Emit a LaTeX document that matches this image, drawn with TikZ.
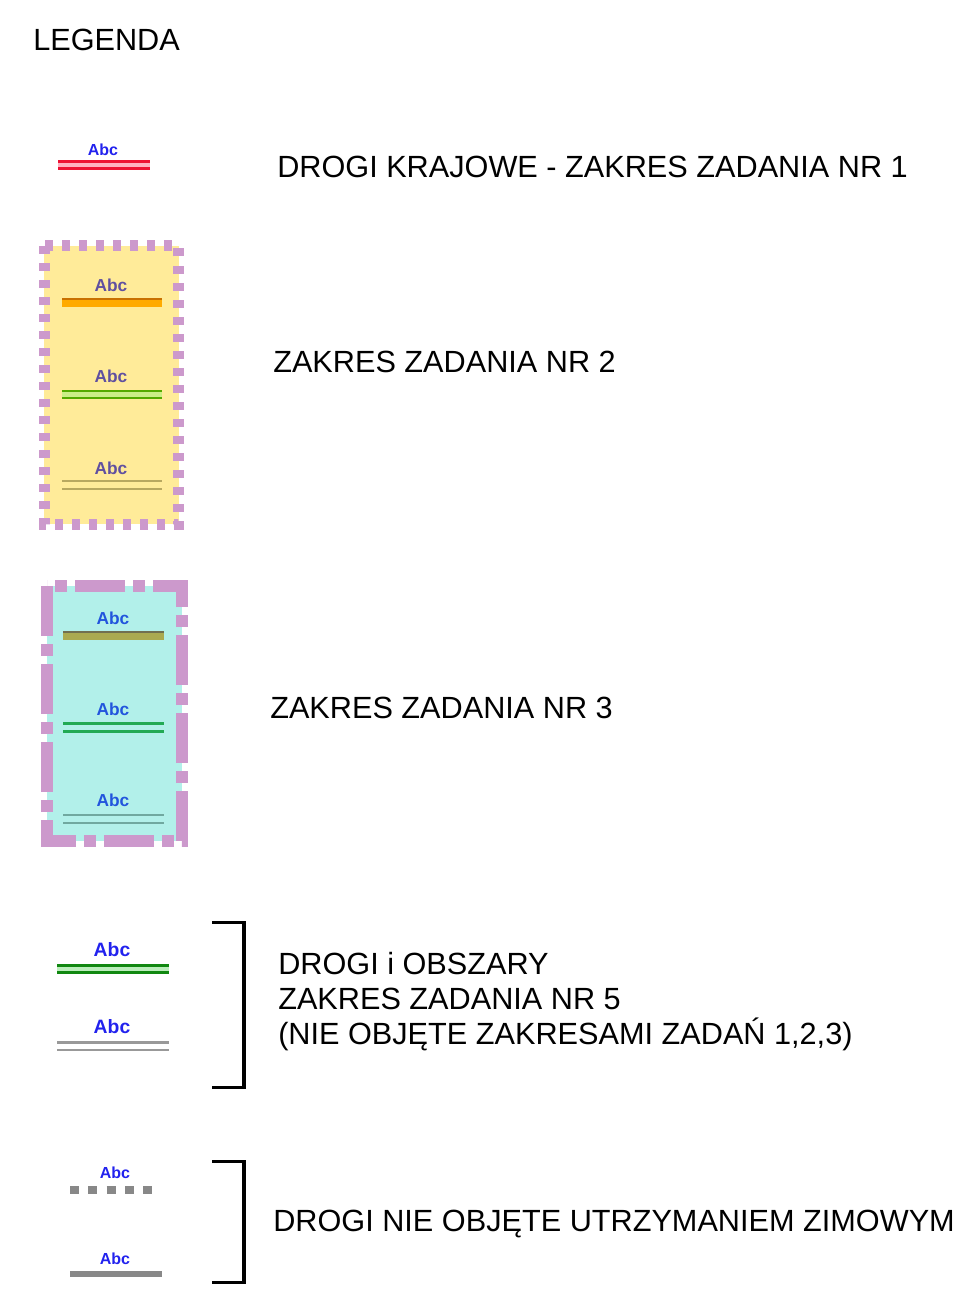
\documentclass[tikz,border=0pt]{standalone}
\usepackage{fontspec}
\setmainfont{Liberation Sans}
\usepackage{tikz}
\usetikzlibrary{positioning}
\definecolor{legpurple}{HTML}{CC99CC}
\definecolor{legyellow}{HTML}{FFEB99}
\definecolor{legcyan}{HTML}{B2F0EA}
\definecolor{abcblue}{HTML}{2222EE}
\definecolor{abcblue2}{HTML}{2255DD}
\definecolor{abcviolet}{HTML}{6050A0}
\definecolor{roadred}{HTML}{EE1133}
\definecolor{roadpink}{HTML}{FFB0C0}
\definecolor{roadorange}{HTML}{FFAA00}
\definecolor{roadorangedk}{HTML}{C87000}
\definecolor{roadlime}{HTML}{55AA00}
\definecolor{roadlimelt}{HTML}{CCEE88}
\definecolor{roadtan}{HTML}{B8A860}
\definecolor{roadolive}{HTML}{AAAA50}
\definecolor{roadolivedk}{HTML}{707050}
\definecolor{roadgreen}{HTML}{22AA55}
\definecolor{roadteal}{HTML}{70A8A0}
\definecolor{roaddkgreen}{HTML}{118811}
\definecolor{roadmint}{HTML}{BBEEBB}
\definecolor{roadgray}{HTML}{999999}
\definecolor{roadgraydk}{HTML}{888888}

\begin{document}
\begin{tikzpicture}[x=0.75pt,y=-0.75pt,
  label/.style={anchor=base west,inner sep=0pt,font=\fontsize{23}{26.25}\selectfont,align=left},
  abc/.style={inner sep=0pt,font=\bfseries\fontsize{12}{14}\selectfont,text=abcblue},
  zonetwo/.style={draw=legpurple,fill=legyellow,line width=8.25pt,dash pattern=on 6pt off 6.75pt},
  zonethree/.style={draw=legpurple,fill=legcyan,line width=9pt,dash pattern=on 37.5pt off 6pt on 9pt off 6pt},
  bracket/.style={draw=black,line width=2.4pt}
]
\useasboundingbox (0,0) rectangle (956,1291);

\node[label] (legend) at (33,51) {LEGENDA};

% drogi krajowe
\draw[roadred,line width=2.25pt,double=roadpink,double distance=3pt] (58,165.5) -- (150,165.5);
\node[abc] (abcone) at (103,150) {Abc};
\node[label] (lblone) at (277,178) {DROGI KRAJOWE - ZAKRES ZADANIA NR 1};

% zadanie 2
\draw[zonetwo] (44,246) rectangle (178.5,524);
\draw[roadorange,line width=6pt] (62,303) -- (162,303);
\draw[roadorangedk,line width=1.5pt] (62,299) -- (162,299);
\draw[roadlime,line width=1.8pt,double=roadlimelt,double distance=3.5pt] (62,394.5) -- (162,394.5);
\draw[roadtan,line width=1.8pt] (62,481) -- (162,481);
\draw[roadtan,line width=1.8pt] (62,489) -- (162,489);
\node[abc,text=abcviolet,font=\bfseries\fontsize{13}{15}\selectfont] (abctwoa) at (111,285) {Abc};
\node[abc,text=abcviolet,font=\bfseries\fontsize{13}{15}\selectfont] (abctwob) at (111,376) {Abc};
\node[abc,text=abcviolet,font=\bfseries\fontsize{13}{15}\selectfont] (abctwoc) at (111,468) {Abc};
\node[label] (lbltwo) at (273,372) {ZAKRES ZADANIA NR 2};

% zadanie 3
\draw[zonethree] (47,586) rectangle (182,841);
\draw[roadolive,line width=6pt] (63,636) -- (164,636);
\draw[roadolivedk,line width=1.5pt] (63,631.5) -- (164,631.5);
\draw[roadgreen,line width=2.2pt] (63,723.5) -- (164,723.5);
\draw[roadgreen,line width=2.2pt] (63,731.5) -- (164,731.5);
\draw[roadteal,line width=2pt] (63,815) -- (164,815);
\draw[roadteal,line width=2pt] (63,823) -- (164,823);
\node[abc,text=abcblue2,font=\bfseries\fontsize{13}{15}\selectfont] (abcthreea) at (113,618) {Abc};
\node[abc,text=abcblue2,font=\bfseries\fontsize{13}{15}\selectfont] (abcthreeb) at (113,709) {Abc};
\node[abc,text=abcblue2,font=\bfseries\fontsize{13}{15}\selectfont] (abcthreec) at (113,800) {Abc};
\node[label] (lblthree) at (270,718) {ZAKRES ZADANIA NR 3};

% zadanie 5
\draw[roaddkgreen,line width=2.2pt,double=roadmint,double distance=3.5pt] (57,969) -- (169,969);
\draw[roadgray,line width=2pt] (57,1042.5) -- (169,1042.5);
\draw[roadgray,line width=2pt] (57,1050) -- (169,1050);
\node[abc,font=\bfseries\fontsize{14.5}{16}\selectfont] (abcfivea) at (112,950) {Abc};
\node[abc,font=\bfseries\fontsize{14.5}{16}\selectfont] (abcfiveb) at (112,1027) {Abc};
\coordinate (brfivetop) at (212,922.5);
\coordinate (brfivebot) at (212,1087.5);
\draw[bracket] (brfivetop) -- ++(32,0) |- (brfivebot);
\node[label] (lblfive) at (278,1044) {DROGI i OBSZARY\\ZAKRES ZADANIA NR 5\\(NIE OBJĘTE ZAKRESAMI ZADAŃ 1,2,3)};

% bez utrzymania zimowego
\draw[roadgraydk,line width=6pt,dash pattern=on 6.75pt off 7pt] (70,1190) -- (157,1190);
\draw[roadgraydk,line width=4.5pt] (70,1273.5) -- (161.5,1273.5);
\node[abc] (abcsixa) at (115,1173) {Abc};
\node[abc] (abcsixb) at (115,1259) {Abc};
\coordinate (brsixtop) at (212,1161.5);
\coordinate (brsixbot) at (212,1282.5);
\draw[bracket] (brsixtop) -- ++(32,0) |- (brsixbot);
\node[label] (lblsix) at (273,1231) {DROGI NIE OBJĘTE UTRZYMANIEM ZIMOWYM};
\end{tikzpicture}
\end{document}
